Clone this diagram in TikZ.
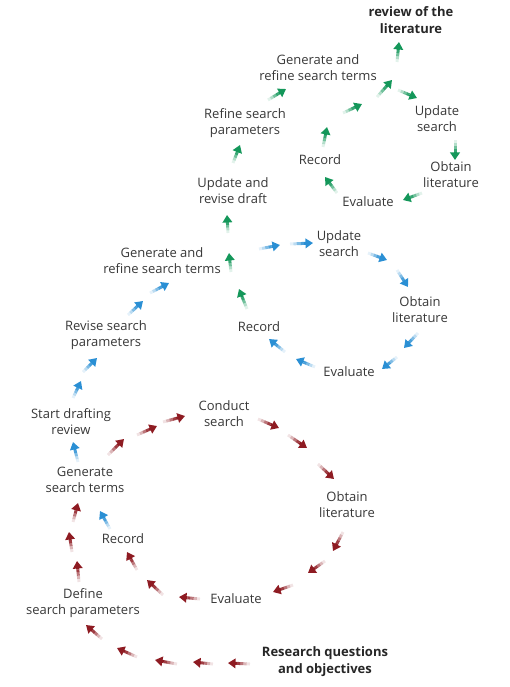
\documentclass[tikz,border=0pt]{standalone}
\usepackage{fontspec}
\setmainfont{Open Sans}
\usetikzlibrary{arrows.meta,calc}
\definecolor{redc}{HTML}{8E1B22}
\definecolor{bluec}{HTML}{2A8FD4}
\definecolor{greenc}{HTML}{14975A}
\definecolor{txt}{HTML}{383838}
\newcommand{\fadearr}[3]{%
  \foreach \s/\o in {0/0.12,0.15/0.32,0.3/0.6,0.45/0.85}{%
    \draw[#3, line width=3pt, opacity=\o] ($(#1)!\s!(#2)$) -- ($(#1)!\s+0.15!(#2)$);}%
  \draw[#3, line width=3pt, -{Triangle[length=7.5pt,width=9.5pt]}] ($(#1)!0.6!(#2)$) -- (#2);%
}
\tikzset{
  lbl/.style={inner sep=0pt, align=center, text=txt, font=\fontsize{13}{16}\selectfont},
  blbl/.style={lbl, text=black!85, font=\fontsize{13}{17}\selectfont\bfseries}
}
\begin{document}
\begin{tikzpicture}[x=1pt,y=-1pt]
\useasboundingbox (0,0) rectangle (509,687);
% green loop
\node[blbl] (grev) at (411,20) {review of the\\literature};
\node[lbl] (ggen) at (318,68) {Generate and\\refine search terms};
\node[lbl] (gref) at (245,123) {Refine search\\parameters};
\node[lbl] (gupd) at (233,191) {Update and\\revise draft};
\node[lbl] (grec) at (320,160) {Record};
\node[lbl] (gus) at (437,119) {Update\\search};
\node[lbl] (gobt) at (451,175) {Obtain\\literature};
\node[lbl] (geva) at (368,202) {Evaluate};
% blue loop
\node[lbl] (bgen) at (162,261) {Generate and\\refine search terms};
\node[lbl] (bus) at (339,244) {Update\\search};
\node[lbl] (bobt) at (420,310) {Obtain\\literature};
\node[lbl] (brec) at (259,327) {Record};
\node[lbl] (brev) at (106,335) {Revise search\\parameters};
\node[lbl] (beva) at (349,372) {Evaluate};
% red loop
\node[lbl] (rstart) at (71,422) {Start drafting\\review};
\node[lbl] (rcon) at (224,414) {Conduct\\search};
\node[lbl] (rgen) at (85,480) {Generate\\search terms};
\node[lbl] (robt) at (347,505) {Obtain\\literature};
\node[lbl] (rrec) at (123,539) {Record};
\node[lbl] (rdef) at (83,603) {Define\\search parameters};
\node[lbl] (reva) at (236,599) {Evaluate};
\node[blbl] (rrq) at (325,662) {Research questions\\and objectives};
% red arrows
\foreach \xa/\ya/\xb/\yb [count=\i] in {
  250/664/228/663, 213/664/193/662, 177/664/155/660, 137/657/117/648, 102/639/86/625,
  79/582/77/561, 72/552/69/532, 73/522/78/503,
  108/455/124/439, 137/435/157/426, 163/422/185/416,
  258/419/279/428, 288/435/307/448, 318/464/334/479,
  343/532/333/551, 325/561/308/573, 293/585/273/592,
  200/599/179/597, 163/595/147/580, 137/570/127/552}{
  \coordinate (ra\i) at (\xa,\ya); \coordinate (rb\i) at (\xb,\yb);
  \fadearr{ra\i}{rb\i}{redc}}
% blue arrows
\foreach \xa/\ya/\xb/\yb [count=\i] in {
  110/529/100/511, 78/462/73/442, 73/398/81/381, 83/372/97/358,
  128/315/143/301, 150/293/169/283,
  259/249/280/245, 290/244/313/243, 368/253/387/260, 397/270/408/287,
  418/333/404/348, 397/357/382/369, 315/367/296/359, 285/352/269/339}{
  \coordinate (ba\i) at (\xa,\ya); \coordinate (bb\i) at (\xb,\yb);
  \fadearr{ba\i}{bb\i}{bluec}}
% green arrows
\foreach \xa/\ya/\xb/\yb [count=\i] in {
  247/309/239/289, 231/272/229/253, 228/233/227/215, 233/163/240/145,
  268/100/286/89, 323/147/327/127, 343/113/362/104, 377/97/392/80,
  397/62/399/42, 398/90/417/98, 455/140/455/160, 422/193/403/200, 337/193/325/177}{
  \coordinate (ga\i) at (\xa,\ya); \coordinate (gb\i) at (\xb,\yb);
  \fadearr{ga\i}{gb\i}{greenc}}
\end{tikzpicture}
\end{document}
